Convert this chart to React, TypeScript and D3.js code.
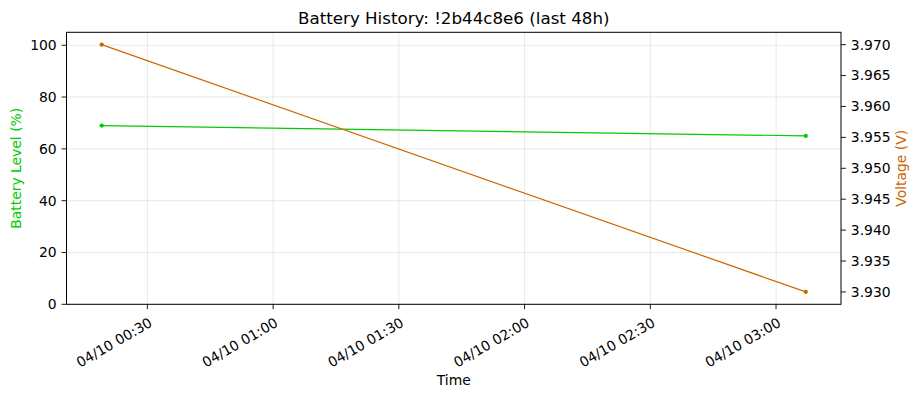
import React from "react";
import * as d3 from "d3";

const times: Date[] = [new Date(2024, 3, 10, 0, 19, 6), new Date(2024, 3, 10, 3, 7, 6)];
const batteryLevels: number[] = [69, 65];
const voltages: number[] = [3.97, 3.93];
const batteryTicks: number[] = [0, 20, 40, 60, 80, 100];
const voltageTicks: number[] = [3.93, 3.935, 3.94, 3.945, 3.95, 3.955, 3.96, 3.965, 3.97];

const W = 919;
const H = 397;
const M = { left: 66.5, right: 841, top: 32.3, bottom: 304.3 };
const GREEN = "#00cc00";
const ORANGE = "#cc6600";
const FONT = "DejaVu Sans, sans-serif";
const FS = 13.9;

export default function App() {
  const span = times[1].getTime() - times[0].getTime();
  const x = d3
    .scaleTime()
    .domain([new Date(times[0].getTime() - span * 0.05), new Date(times[1].getTime() + span * 0.05)])
    .range([M.left, M.right]);
  const yL = d3.scaleLinear().domain([0, 105]).range([M.bottom, M.top]);
  const vMin = d3.min(voltages)!;
  const vMax = d3.max(voltages)!;
  const vPad = (vMax - vMin) * 0.05;
  const yR = d3.scaleLinear().domain([vMin - vPad, vMax + vPad]).range([M.bottom, M.top]);

  const xTicks = x.ticks(d3.timeMinute.every(30)!);
  const fmt = d3.timeFormat("%m/%d %H:%M");

  const battLine = d3
    .line<number>()
    .x((_, i) => x(times[i]))
    .y((d) => yL(d))(batteryLevels)!;
  const voltLine = d3
    .line<number>()
    .x((_, i) => x(times[i]))
    .y((d) => yR(d))(voltages)!;

  const tickLen = 4.9;
  const pad = 4.9;

  return (
    <svg width={W} height={H} style={{ position: "absolute", left: 0, top: 0 }} fontFamily={FONT}>
      <rect width={W} height={H} fill="white" />
      {/* grid */}
      {xTicks.map((t, i) => (
        <line key={"gx" + i} x1={x(t)} x2={x(t)} y1={M.top} y2={M.bottom} stroke="#b0b0b0" strokeOpacity={0.35} strokeWidth={0.8} />
      ))}
      {batteryTicks.map((t, i) => (
        <line key={"gy" + i} x1={M.left} x2={M.right} y1={yL(t)} y2={yL(t)} stroke="#b0b0b0" strokeOpacity={0.35} strokeWidth={0.8} />
      ))}
      {/* lines */}
      <path d={battLine} fill="none" stroke={GREEN} strokeWidth={1.2} />
      {batteryLevels.map((v, i) => (
        <circle key={"bp" + i} cx={x(times[i])} cy={yL(v)} r={2.1} fill={GREEN} />
      ))}
      <path d={voltLine} fill="none" stroke={ORANGE} strokeWidth={1.2} />
      {voltages.map((v, i) => (
        <circle key={"vp" + i} cx={x(times[i])} cy={yR(v)} r={2.1} fill={ORANGE} />
      ))}
      {/* frame */}
      <rect x={M.left} y={M.top} width={M.right - M.left} height={M.bottom - M.top} fill="none" stroke="black" strokeWidth={1} />
      {/* left axis */}
      {batteryTicks.map((t, i) => (
        <g key={"lt" + i}>
          <line x1={M.left - tickLen} x2={M.left} y1={yL(t)} y2={yL(t)} stroke="black" strokeWidth={0.9} />
          <text x={M.left - tickLen - pad} y={yL(t)} dy="0.35em" textAnchor="end" fontSize={FS} fill="black">
            {t}
          </text>
        </g>
      ))}
      {/* right axis */}
      {voltageTicks.map((t, i) => (
        <g key={"rt" + i}>
          <line x1={M.right} x2={M.right + tickLen} y1={yR(t)} y2={yR(t)} stroke="black" strokeWidth={0.9} />
          <text x={M.right + tickLen + pad} y={yR(t)} dy="0.35em" textAnchor="start" fontSize={FS} fill="black">
            {t.toFixed(3)}
          </text>
        </g>
      ))}
      {/* bottom axis */}
      {xTicks.map((t, i) => (
        <g key={"bt" + i}>
          <line x1={x(t)} x2={x(t)} y1={M.bottom} y2={M.bottom + tickLen} stroke="black" strokeWidth={0.9} />
          <text
            transform={`translate(${x(t) + 1},${M.bottom + tickLen + pad + 3}) rotate(-30)`}
            textAnchor="end"
            dy="0.7em"
            fontSize={FS}
            fill="black"
          >
            {fmt(t)}
          </text>
        </g>
      ))}
      {/* labels */}
      <text x={(M.left + M.right) / 2} y={385} textAnchor="middle" fontSize={FS} fill="black">
        Time
      </text>
      <text transform={`translate(21,${(M.top + M.bottom) / 2}) rotate(-90)`} textAnchor="middle" fontSize={FS} fill={GREEN}>
        Battery Level (%)
      </text>
      <text transform={`translate(906,${(M.top + M.bottom) / 2}) rotate(-90)`} textAnchor="middle" fontSize={FS} fill={ORANGE}>
        Voltage (V)
      </text>
      <text x={(M.left + M.right) / 2} y={24} textAnchor="middle" fontSize={16.7} fill="black">
        Battery History: !2b44c8e6 (last 48h)
      </text>
    </svg>
  );
}
